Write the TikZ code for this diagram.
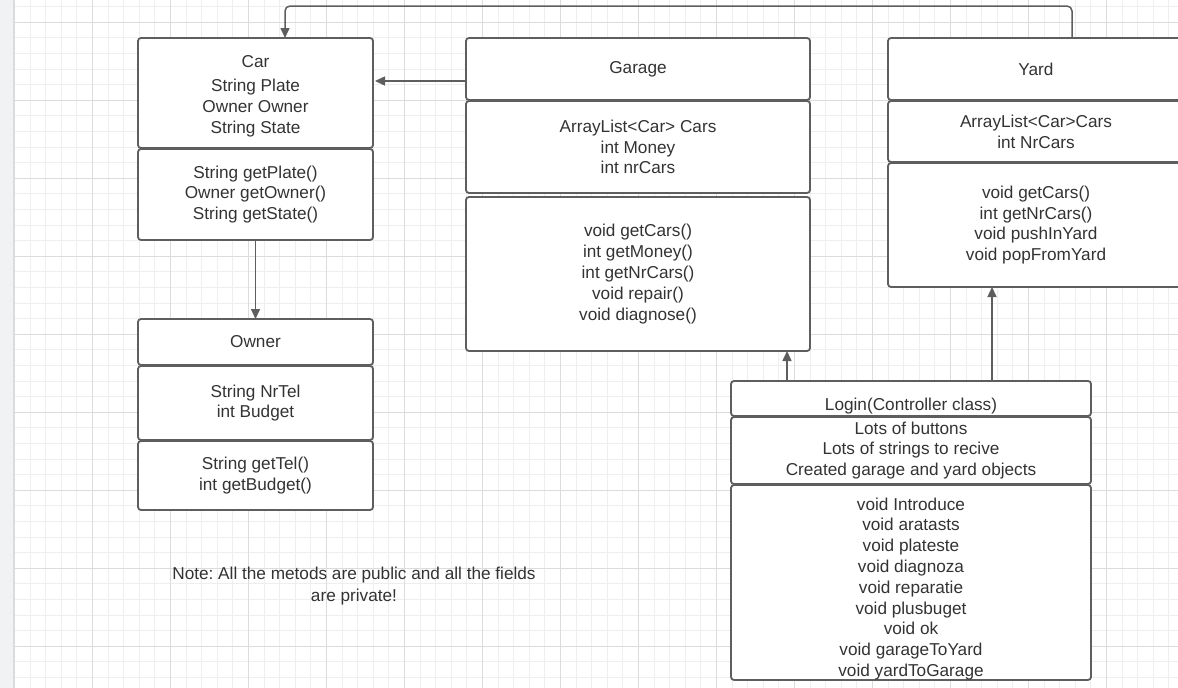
\documentclass[tikz,border=0pt]{standalone}
\usepackage{fontspec}
\setmainfont{Liberation Sans}
\usetikzlibrary{arrows.meta,calc}
\definecolor{edge}{HTML}{5E5E5E}
\definecolor{ink}{HTML}{333333}
\definecolor{gminor}{HTML}{EEEEEE}
\definecolor{gmajor}{HTML}{DCDCDC}
\definecolor{strip}{HTML}{F1F2F4}
\definecolor{stripedge}{HTML}{DADBDD}
\frenchspacing
\begin{document}
\begin{tikzpicture}[x=1pt,y=-1pt,
  comp/.style={draw=edge,fill=white,line width=1.8pt,rounded corners=3pt,anchor=north west,
    inner sep=0pt,outer sep=0pt,align=center,text=ink,font=\fontsize{17.2}{20.8}\selectfont},
  txt/.style={align=center,text=ink,inner sep=0pt,font=\fontsize{17.2}{22}\selectfont},
  arr/.style={draw=edge,line width=1.5pt,-{Triangle[length=10pt,width=9pt]}},
  gmin/.style={draw=gminor,line width=1pt},
  gmaj/.style={draw=gmajor,line width=1pt}]
\useasboundingbox (0,0) rectangle (1178,688);
\clip (0,0) rectangle (1178,688);
\fill[white] (0,0) rectangle (1178,688);
% grid
\foreach \k in {0,...,74}{\pgfmathsetmacro\xx{14.5+15.6*\k}\draw[gmin] (\xx,0) -- (\xx,688);}
\foreach \k in {0,...,43}{\pgfmathsetmacro\yy{6.7+15.6*\k}\draw[gmin] (14,\yy) -- (1178,\yy);}
\foreach \k in {0,5,...,70}{\pgfmathsetmacro\xx{14.5+15.6*\k}\draw[gmaj] (\xx,0) -- (\xx,688);}
\foreach \k in {1,6,...,41}{\pgfmathsetmacro\yy{6.7+15.6*\k}\draw[gmaj] (14,\yy) -- (1178,\yy);}
\fill[strip] (0,0) rectangle (13,688);
\draw[stripedge,line width=1.5pt] (13.5,0) -- (13.5,688);
% Car
\node[comp,minimum width=235pt,minimum height=110pt] (car1) at (138,38) {\rule{0pt}{18pt}Car\\[4pt]String Plate\\Owner Owner\\String State};
\node[comp,minimum width=235pt,minimum height=91pt] (car2) at (138,149) {String getPlate()\\Owner getOwner()\\String getState()};
% Owner
\node[comp,minimum width=235pt,minimum height=46pt] (own1) at (138,319) {Owner};
\node[comp,minimum width=235pt,minimum height=74pt] (own2) at (138,366) {String NrTel\\int Budget};
\node[comp,minimum width=235pt,minimum height=69pt] (own3) at (138,441) {String getTel()\\int getBudget()};
% Garage
\node[comp,minimum width=344pt,minimum height=62pt] (gar1) at (466,38) {Garage};
\node[comp,minimum width=344pt,minimum height=92pt] (gar2) at (466,101) {ArrayList<Car> Cars\\int Money\\int nrCars};
\node[comp,minimum width=344pt,minimum height=154pt] (gar3) at (466,197) {void getCars()\\int getMoney()\\int getNrCars()\\void repair()\\void diagnose()};
% Yard
\node[comp,minimum width=296pt,minimum height=62pt] (yard1) at (888,38) {Yard};
\node[comp,minimum width=296pt,minimum height=61pt] (yard2) at (888,101) {ArrayList<Car>Cars\\int NrCars};
\node[comp,minimum width=296pt,minimum height=124pt] (yard3) at (888,163) {void getCars()\\int getNrCars()\\void pushInYard\\void popFromYard};
% Login
\node[comp,minimum width=360pt,minimum height=35pt] (log1) at (731,381) {\raisebox{-11.5pt}[0pt][0pt]{Login(Controller class)}};
\node[comp,minimum width=360pt,minimum height=67pt] (log2) at (731,417) {Lots of buttons\\Lots of strings to recive\\Created garage and yard objects};
\node[comp,minimum width=360pt,minimum height=194pt] (log3) at (731,485) {\rule{0pt}{25pt}void Introduce\\void aratasts\\void plateste\\void diagnoza\\void reparatie\\void plusbuget\\void ok\\void garageToYard\\void yardToGarage};
% note
\node[txt] (note) at (354,586) {Note: All the metods are public and all the fields\\are private!};
% connectors
\draw[arr] ([yshift=-12pt]gar1.west) -- ([yshift=-12pt,xshift=2pt]gar1.west -| car1.east);
\draw[arr] (car2.south) -- (own1.north);
\draw[arr] ([xshift=56pt]log1.north west) -- ([xshift=56pt]log1.north west |- gar3.south);
\draw[arr] ([xshift=261pt]log1.north west) -- ([xshift=261pt]log1.north west |- yard3.south);
\coordinate (bend) at (1072,6);
\draw[arr,rounded corners=5pt] ([xshift=184pt]yard1.north west) -- (bend) -| ([xshift=147pt]car1.north west);
\end{tikzpicture}
\end{document}
